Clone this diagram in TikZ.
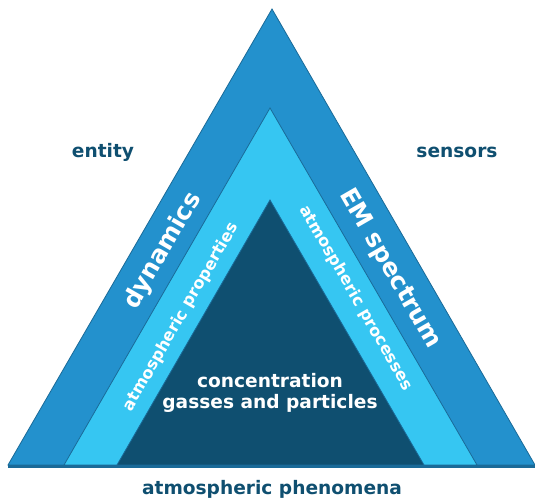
\documentclass[tikz,border=0pt]{standalone}
\usepackage{fontspec}
\setmainfont{DejaVu Sans}
\definecolor{outerblue}{HTML}{2391CD}
\definecolor{lightblue}{HTML}{36C6F2}
\definecolor{deepblue}{HTML}{0F4F70}
\definecolor{edgeblue}{HTML}{1A6A98}

\begin{document}
\begin{tikzpicture} [
    x = 1pt, y = -1pt,
    layer/.style = {draw = edgeblue, line width = 0.8pt, line join = miter},
    corner/.style = {text = deepblue, inner sep = 0pt, font = \fontsize{18.6}{21}\selectfont\bfseries},
    band/.style = {text = white, inner sep = 0pt, font = \fontsize{24.5}{28}\selectfont\bfseries},
    innertext/.style = {text = white, inner sep = 0pt, font = \fontsize{16.2}{19}\selectfont\bfseries}
]
\useasboundingbox (0,0) rectangle (535,501);

% corners of the three triangles
\coordinate (O1) at (8,465);
\coordinate (O2) at (535,465);
\coordinate (O3) at (272,9);
\coordinate (L1) at (64,465);
\coordinate (L2) at (477,465);
\coordinate (L3) at (270,108);
\coordinate (D1) at (117,465);
\coordinate (D2) at (424,465);
\coordinate (D3) at (270,200);

% triangles
\filldraw [layer, fill = outerblue] (O1) -- (O3) -- (O2) -- cycle;
\filldraw [layer, fill = lightblue] (L1) -- (L3) -- (L2) -- cycle;
\filldraw [layer, fill = deepblue] (D1) -- (D3) -- (D2) -- cycle;

% base line
\coordinate (B1) at (8,466);
\coordinate (B2) at (535,466);
\draw [edgeblue, line width = 3pt] (B1) -- (B2);

% labels outside
\node (entity) at (103,152) [corner] {entity};
\node (sensors) at (457,152) [corner] {sensors};
\node (phenomena) at (272,489) [corner] {atmospheric phenomena};

% labels on the bands
\node (dynamics) at (163,251) [band, rotate = 60] {dynamics};
\node (spectrum) at (390,269) [band, rotate = -60] {EM spectrum};
\node (properties) at (181,317) [innertext, rotate = 60] {atmospheric properties};
\node (processes) at (356,298) [innertext, rotate = -60] {atmospheric processes};

% core
\node (core) at (270,393) [corner, text = white, align = center] {concentration\\gasses and particles};

\end{tikzpicture}
\end{document}
